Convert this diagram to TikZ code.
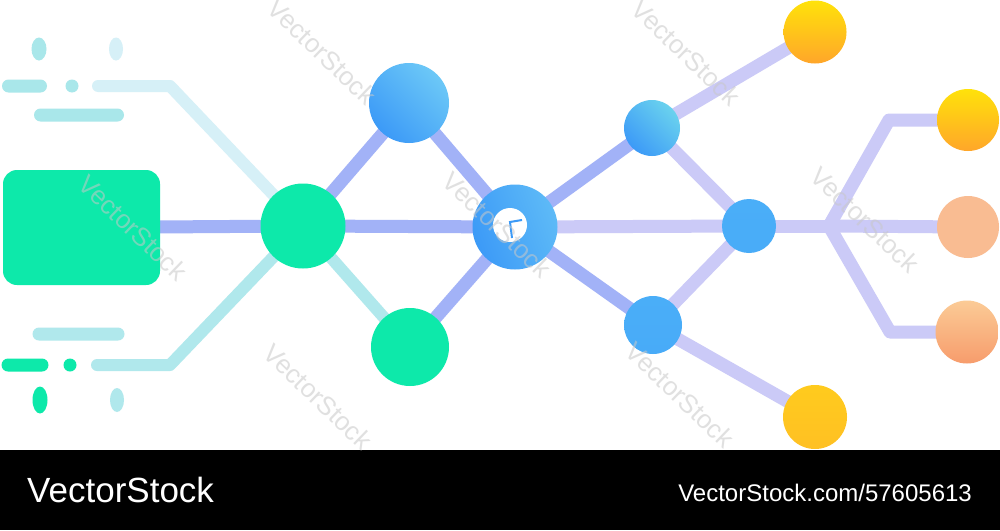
\documentclass[tikz,border=0pt]{standalone}
\usepackage{fontspec}
\setmainfont{Liberation Sans}
\usetikzlibrary{calc,shapes.geometric}
\pgfdeclarelayer{bg}
\pgfsetlayers{bg,main}
\definecolor{grn}{HTML}{0DE9AA}
\definecolor{tealA}{HTML}{A9E7EA}
\definecolor{tealB}{HTML}{B0E8EC}
\definecolor{paleC}{HTML}{D6F0F7}
\definecolor{lnB}{HTML}{A2B2F7}
\definecolor{lnL}{HTML}{CBCAF7}
\definecolor{bluD}{HTML}{3C9AF7}
\definecolor{bluL}{HTML}{6CC8F7}
\definecolor{bluM}{HTML}{4AAEF8}
\definecolor{cyanL}{HTML}{6AD2EE}
\definecolor{yelT}{HTML}{FFE20A}
\definecolor{yelB}{HTML}{FFA62A}
\definecolor{yelM}{HTML}{FFC522}
\definecolor{pchM}{HTML}{F9BC92}
\definecolor{pchT}{HTML}{FBCB96}
\definecolor{pchB}{HTML}{F79C6C}
\definecolor{wmk}{HTML}{C8C8C8}
\begin{document}
\begin{tikzpicture}[x=1pt,y=-1pt,
  dot/.style={circle,inner sep=0pt,draw=none},
  oval/.style={ellipse,inner sep=0pt,draw=none},
  bar/.style={rectangle,rounded corners=6.5pt,inner sep=0pt,minimum height=13pt,draw=none},
  lnblue/.style={draw=lnB,line width=13pt,line cap=round,line join=round},
  lnlav/.style={draw=lnL,line width=13pt,line cap=round,line join=round},
  lnteal/.style={draw=tealB,line width=12pt,line cap=round,line join=round},
  lnpale/.style={draw=paleC,line width=12pt,line cap=round,line join=round},
  bluegrad/.style={top color=#1,bottom color=bluD,shading angle=-45},
  wmark/.style={text=wmk,opacity=0.55,rotate=-44,font=\fontsize{26pt}{26pt}\selectfont,inner sep=0pt}
]
\useasboundingbox (0,0) rectangle (1000,530);

% left decorations
\node[oval,fill=tealA,minimum width=15pt,minimum height=23pt] (e1) at (39,49) {};
\node[oval,fill=paleC,minimum width=14pt,minimum height=23pt] (e2) at (116,49) {};
\node[bar,fill=tealA,minimum width=45pt] (t1) at (24.5,86) {};
\node[dot,fill=tealA,minimum size=13pt] (t2) at (72,86) {};
\node[bar,fill=tealA,minimum width=90pt] (t3) at (79,115) {};
\node[bar,fill=tealB,minimum width=92pt] (b3) at (78.5,334) {};
\node[bar,fill=grn,minimum width=47pt] (b1) at (25,365) {};
\node[dot,fill=grn,minimum size=13pt] (b2) at (70,365) {};
\node[oval,fill=grn,minimum width=15pt,minimum height=27pt] (e3) at (40,400) {};
\node[oval,fill=tealB,minimum width=14pt,minimum height=24pt] (e4) at (117,400) {};
\coordinate (a1) at (98,86);
\coordinate (a2) at (170,86);
\coordinate (c1) at (97,365);
\coordinate (c2) at (170,365);

% main nodes
\node[rectangle,rounded corners=14pt,fill=grn,minimum width=157pt,minimum height=115pt,inner sep=0pt] (rect) at (81.5,227.5) {};
\node[dot,fill=grn,minimum size=85pt] (hub) at (303,226) {};
\node[dot,bluegrad=bluL,minimum size=80pt] (ub) at (409,103) {};
\node[dot,fill=grn,minimum size=78pt] (lg) at (410,347) {};
\node[dot,top color=bluL!70!bluD,bottom color=bluD,shading angle=-70,minimum size=85pt] (cc) at (515,227) {};
\node[dot,fill=white,minimum size=34pt] (cw) at (510,225) {};
\coordinate (piv) at (510,222);
\coordinate (hA) at (512,238);
\coordinate (hB) at (522,220);
\draw[bluD,line width=2pt] (hA) -- (piv) -- (hB);

\node[dot,bluegrad=cyanL,minimum size=56pt] (s1) at (652,128) {};
\node[dot,top color=bluM,bottom color=bluM!90!bluD,minimum size=54pt] (s2) at (749,226) {};
\node[dot,top color=bluM,bottom color=bluM!85!bluD,minimum size=58pt] (s3) at (653,325) {};
\node[dot,top color=yelT,bottom color=yelB,minimum size=63pt] (y1) at (815,32) {};
\node[dot,top color=yelM!80!yelT,bottom color=yelM!85!yelB,minimum size=64pt] (y2) at (815,417) {};
\node[dot,top color=yelT,bottom color=yelB,minimum size=62pt] (o1) at (968,120) {};
\node[dot,fill=pchM,minimum size=62pt] (o2) at (968,227) {};
\node[dot,top color=pchT,bottom color=pchB,minimum size=63pt] (o3) at (967,332) {};
\coordinate (j) at (829,226);
\coordinate (k1) at (889,120);
\coordinate (k3) at (890,332);

\begin{pgfonlayer}{bg}
\fill[white] (0,0) rectangle (1000,450);
\fill[black] (0,450) rectangle (1000,530);
\draw[lnpale] (a1) -- (a2) -- (hub.center);
\draw[lnteal] (c1) -- (c2) -- (hub.center);
\draw[lnteal] (hub.center) -- (lg.center);
\draw[lnblue] (rect.center) -- (hub.center);
\draw[lnblue] (hub.center) -- (cc.center);
\draw[lnblue] (hub.center) -- (ub.center);
\draw[lnblue] (ub.center) -- (cc.center);
\draw[lnblue] (lg.center) -- (cc.center);
\draw[lnblue] (cc.center) -- (s1.center);
\draw[lnblue] (cc.center) -- (s3.center);
\draw[lnlav] (cc.center) -- (s2.center);
\draw[lnlav] (s1.center) -- (s2.center);
\draw[lnlav] (s3.center) -- (s2.center);
\draw[lnlav] (s1.center) -- (y1.center);
\draw[lnlav] (s3.center) -- (y2.center);
\draw[lnlav] (s2.center) -- (j);
\draw[lnlav] (j) -- (k1) -- (o1.center);
\draw[lnlav] (j) -- (o2.center);
\draw[lnlav] (j) -- (k3) -- (o3.center);
\end{pgfonlayer}

% watermark
\node[wmark] (w1) at (322,52) {VectorStock};
\node[wmark] (w2) at (686,53) {VectorStock};
\node[wmark] (w3) at (133,228) {VectorStock};
\node[wmark] (w4) at (497,225) {VectorStock};
\node[wmark] (w5) at (865,220) {VectorStock};
\node[wmark] (w6) at (318,397) {VectorStock};
\node[wmark] (w7) at (680,395) {VectorStock};

% footer
\node[anchor=base west,inner sep=0pt,text=white,font=\fontsize{35pt}{35pt}\selectfont] (f1) at (27,502) {VectorStock};
\node[anchor=base east,inner sep=0pt,text=white,font=\fontsize{24pt}{24pt}\selectfont] (f2) at (972,501) {VectorStock.com/57605613};
\end{tikzpicture}
\end{document}
